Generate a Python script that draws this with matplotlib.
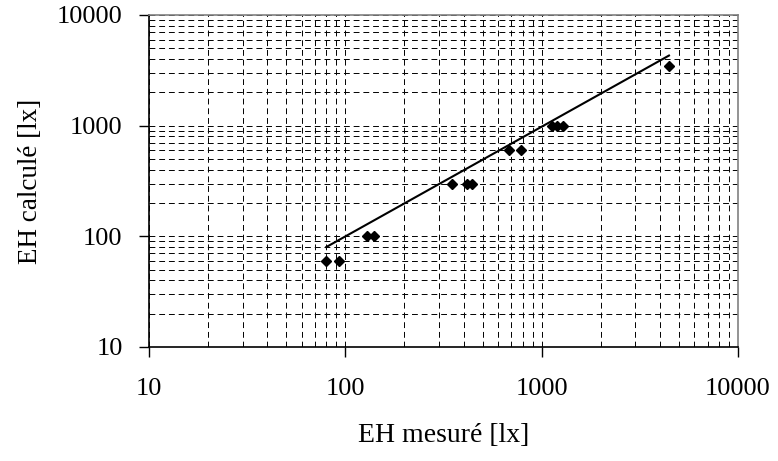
import matplotlib
matplotlib.use("Agg")
import matplotlib.pyplot as plt
from matplotlib.ticker import FixedLocator, NullFormatter

# Measured vs computed horizontal illuminance
eh_mesure = [80, 93, 129, 140, 350, 417, 441, 682, 785, 1125, 1195, 1290, 4450]
eh_calcule = [60, 60, 100, 100, 300, 300, 300, 600, 600, 1000, 1000, 1000, 3450]

# Trend line end points
trend_x = [80, 4450]
trend_y = [80, 4300]

ticks = [10, 100, 1000, 10000]
tick_labels = ["10", "100", "1000", "10000"]

plt.rcParams["font.family"] = ["Liberation Serif", "DejaVu Serif"]

fig = plt.figure(figsize=(7.78, 4.61), dpi=100)
ax = fig.add_axes([0.1915, 0.2473, 0.7571, 0.7202])

ax.set_xscale("log")
ax.set_yscale("log")
ax.set_xlim(10, 10000)
ax.set_ylim(10, 10000)

grid_kw = dict(color="black", linewidth=0.7, linestyle=(0, (6, 4)))
minor = [m * d for d in (10, 100, 1000) for m in range(2, 10)]
ax.xaxis.set_minor_locator(FixedLocator(minor))
ax.yaxis.set_minor_locator(FixedLocator(minor))
ax.xaxis.set_minor_formatter(NullFormatter())
ax.yaxis.set_minor_formatter(NullFormatter())
ax.grid(True, which="both", **grid_kw)
ax.set_axisbelow(True)

ax.plot(trend_x, trend_y, color="black", linewidth=1.5, zorder=3)
ax.plot(eh_mesure, eh_calcule, linestyle="none", marker="D",
        markersize=5.5, color="black", zorder=4)

ax.set_xticks(ticks)
ax.set_xticklabels(tick_labels)
ax.set_yticks(ticks)
ax.set_yticklabels(tick_labels)
ax.tick_params(which="major", direction="out", length=7, width=1,
               labelsize=19)
ax.tick_params(axis="x", pad=15)
ax.tick_params(axis="y", pad=12)
ax.tick_params(which="minor", length=0)

for side in ("top", "right"):
    ax.spines[side].set_color("#808080")
    ax.spines[side].set_linewidth(1.2)
for side in ("left", "bottom"):
    ax.spines[side].set_color("black")
    ax.spines[side].set_linewidth(1.2)

ax.set_xlabel("EH mesuré [lx]", fontsize=20, labelpad=17)
ax.set_ylabel("EH calculé [lx]", fontsize=19.5, labelpad=10)

fig.savefig("out.png", dpi=100)
